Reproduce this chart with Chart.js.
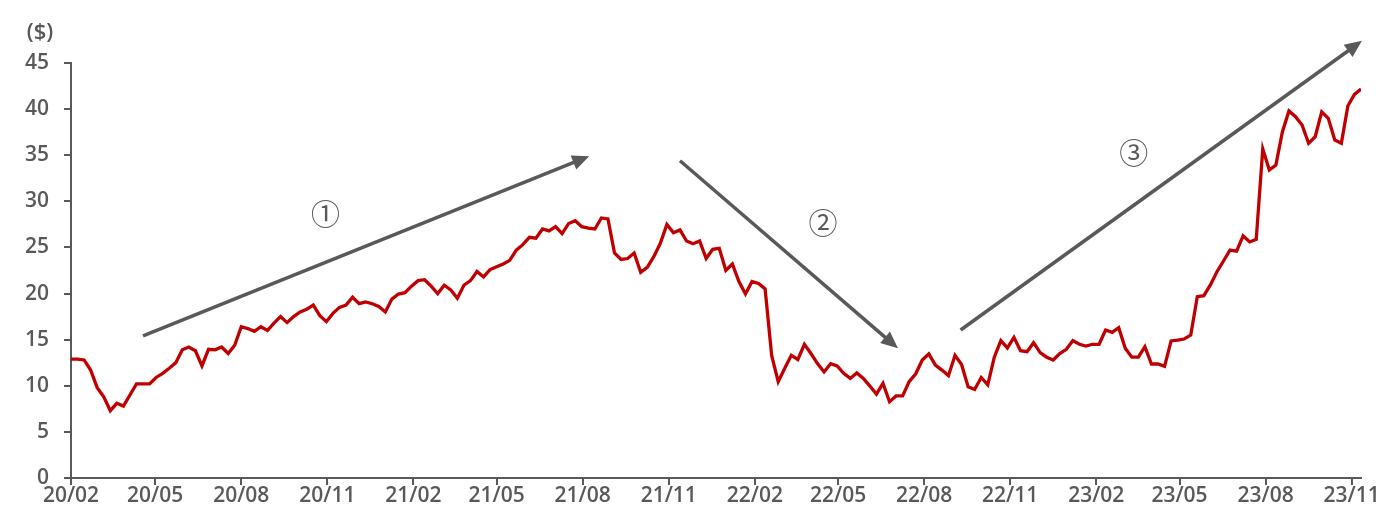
<!DOCTYPE html>
<html>
<head>
<meta charset="utf-8">
<script src="https://cdn.jsdelivr.net/npm/chart.js@4.4.1/dist/chart.umd.min.js"></script>
<style>
  html, body { margin: 0; padding: 0; background: #fff; }
</style>
</head>
<body>
<canvas id="c" width="1392" height="514"></canvas>
<script>
/* DATA: weekly prices ($), first week = 2020-02-01 */
const firstWeek = Date.UTC(2020, 1, 1);
const weekDays = 7;
const prices = [
  12.9, 12.9, 12.8, 11.7, 9.8, 8.8, 7.3, 8.1, 7.8, 9.0,
  10.2, 10.2, 10.2, 10.9, 11.35, 11.9, 12.5, 13.9, 14.2, 13.8,
  12.15, 13.95, 13.9, 14.2, 13.5, 14.4, 16.4, 16.2, 15.9, 16.4,
  16.0, 16.8, 17.5, 16.85, 17.5, 18.0, 18.3, 18.75, 17.6, 16.95,
  17.85, 18.5, 18.75, 19.6, 18.9, 19.1, 18.9, 18.6, 18.0, 19.4,
  19.95, 20.1, 20.8, 21.4, 21.5, 20.8, 20.0, 20.9, 20.4, 19.5,
  20.9, 21.4, 22.4, 21.8, 22.6, 22.9, 23.2, 23.6, 24.7, 25.3,
  26.1, 26.0, 27.0, 26.8, 27.25, 26.5, 27.6, 27.9, 27.25, 27.1,
  27.0, 28.2, 28.1, 24.4, 23.7, 23.8, 24.4, 22.3, 22.85, 24.0,
  25.45, 27.5, 26.6, 26.9, 25.7, 25.4, 25.7, 23.8, 24.8, 24.9,
  22.5, 23.2, 21.3, 19.95, 21.3, 21.1, 20.5, 13.3, 10.45, 11.9,
  13.3, 12.85, 14.5, 13.5, 12.4, 11.5, 12.4, 12.15, 11.35, 10.8,
  11.4, 10.8, 9.97, 9.1, 10.27, 8.27, 8.9, 8.9, 10.45, 11.3,
  12.8, 13.45, 12.25, 11.7, 11.1, 13.3, 12.3, 9.9, 9.6, 10.9,
  10.1, 13.1, 14.9, 14.1, 15.25, 13.8, 13.7, 14.67, 13.6, 13.1,
  12.8, 13.5, 13.95, 14.9, 14.5, 14.3, 14.5, 14.5, 16.05, 15.8,
  16.3, 14.06, 13.1, 13.1, 14.24, 12.36, 12.36, 12.1, 14.86, 14.96,
  15.07, 15.5, 19.66, 19.77, 20.93, 22.37, 23.53, 24.72, 24.6, 26.27,
  25.6, 25.88, 35.68, 33.4, 33.94, 37.55, 39.8, 39.18, 38.28, 36.29,
  37.0, 39.7, 39.0, 36.65, 36.29, 40.37, 41.6, 42.18
];
const tickLabels = ['20/02', '20/05', '20/08', '20/11', '21/02', '21/05', '21/08', '21/11',
                    '22/02', '22/05', '22/08', '22/11', '23/02', '23/05', '23/08', '23/11'];
const yMin = 0, yMax = 45, yStep = 5;
const unitLabel = '($)';

/* annotation arrows, in (day, $) */
const arrowFrom = [[77, 15.4], [651, 34.4], [951, 16.05]];
const arrowTo   = [[554, 34.9], [884, 14.06], [1380, 47.4]];
const stepMarks = ['①', '②', '③'];
const stepAt    = [[272, 28.6], [804, 27.65], [1136, 35.2]];

/* HELPERS */
const DAY = 86400000;
function labelToDay(lbl) {
  const p = lbl.split('/');
  return Math.round((Date.UTC(2000 + (+p[0]), (+p[1]) - 1, 1) - firstWeek) / DAY);
}
const tickDays = tickLabels.map(labelToDay);
const points = prices.map((v, i) => ({ x: i * weekDays, y: v }));
const lastDay = (prices.length - 1) * weekDays;

const GREY = '#595959';
const tickFont = { family: '"Open Sans", sans-serif', size: 21, weight: 600 };

/* ARROWS + CIRCLED NUMBERS + UNIT */
const annotate = {
  id: 'annotate',
  afterDatasetsDraw(chart) {
    const { ctx, scales: { x, y } } = chart;
    ctx.save();
    ctx.strokeStyle = GREY;
    ctx.fillStyle = GREY;
    ctx.lineWidth = 3.5;
    arrowFrom.forEach(function (a, i) {
      const b = arrowTo[i];
      const x0 = x.getPixelForValue(a[0]), y0 = y.getPixelForValue(a[1]);
      const x1 = x.getPixelForValue(b[0]), y1 = y.getPixelForValue(b[1]);
      const ang = Math.atan2(y1 - y0, x1 - x0);
      const head = 17, half = 7.5;
      const bx = x1 - head * Math.cos(ang), by = y1 - head * Math.sin(ang);
      ctx.beginPath();
      ctx.moveTo(x0, y0);
      ctx.lineTo(bx + Math.cos(ang), by + Math.sin(ang));
      ctx.stroke();
      ctx.beginPath();
      ctx.moveTo(x1, y1);
      ctx.lineTo(bx + half * Math.sin(ang), by - half * Math.cos(ang));
      ctx.lineTo(bx - half * Math.sin(ang), by + half * Math.cos(ang));
      ctx.closePath();
      ctx.fill();
    });
    ctx.font = '400 29px "Noto Sans CJK JP"';
    ctx.textAlign = 'center';
    ctx.textBaseline = 'middle';
    stepMarks.forEach(function (m, i) {
      ctx.fillText(m, x.getPixelForValue(stepAt[i][0]), y.getPixelForValue(stepAt[i][1]));
    });
    ctx.font = '600 22px "Open Sans", sans-serif';
    ctx.fillText(unitLabel, 40, 33);
    ctx.restore();
  }
};

new Chart(document.getElementById('c'), {
  type: 'line',
  data: {
    datasets: [{
      data: points,
      borderColor: '#c00000',
      borderWidth: 3.3,
      pointRadius: 0,
      tension: 0,
      fill: false
    }]
  },
  options: {
    responsive: false,
    animation: false,
    devicePixelRatio: 1,
    layout: { padding: { top: 63, right: 31, left: 0, bottom: 0 } },
    plugins: { legend: { display: false }, tooltip: { enabled: false } },
    scales: {
      x: {
        type: 'linear',
        min: 0,
        max: lastDay,
        afterBuildTicks: function (s) { s.ticks = tickDays.map(v => ({ value: v })); },
        afterFit: function (s) { s.height = 36; },
        grid: { drawOnChartArea: false, drawTicks: true, tickLength: 7, color: GREY, lineWidth: 2 },
        border: { color: GREY, width: 2 },
        ticks: {
          color: GREY, font: tickFont, padding: -2, maxRotation: 0, autoSkip: false,
          callback: function (v) { const i = tickDays.indexOf(v); return i >= 0 ? tickLabels[i] : ''; }
        }
      },
      y: {
        min: yMin,
        max: yMax,
        afterFit: function (s) { s.width = 71; },
        grid: { drawOnChartArea: false, drawTicks: true, tickLength: 7, color: GREY, lineWidth: 2 },
        border: { color: GREY, width: 2 },
        ticks: { stepSize: yStep, color: GREY, font: tickFont, padding: 15 }
      }
    }
  },
  plugins: [annotate]
});
</script>
</body>
</html>
